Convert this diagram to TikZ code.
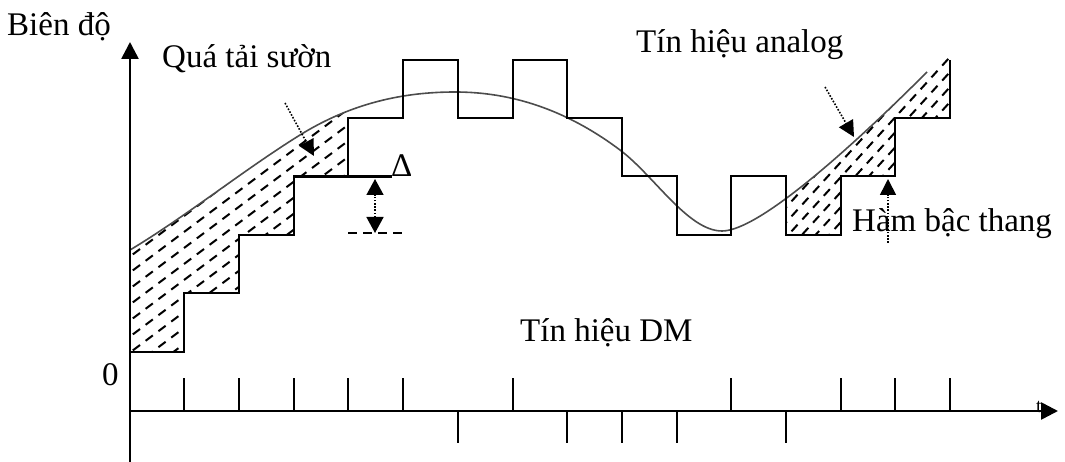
\documentclass[tikz,border=0pt]{standalone}
\usepackage{fontspec}
\setmainfont{Liberation Serif}
\usetikzlibrary{arrows.meta}
\begin{document}
\begin{tikzpicture}[x=1pt,y=-1pt,
  lbl/.style={inner sep=0pt,anchor=base west,font=\fontsize{33}{40}\selectfont},
  axisline/.style={line width=2.6pt,-{Triangle[length=17pt,width=17pt]}},
  stair/.style={line width=1.8pt,line join=miter},
  analog/.style={line width=1.6pt,draw=black!70},
  hatch/.style={line width=2pt,dash pattern=on 9pt off 7pt},
  pointer/.style={line width=1.6pt,dash pattern=on 1.6pt off 1.6pt,-{Triangle[length=16pt,width=16pt]}},
  twoway/.style={line width=1.6pt,dash pattern=on 1.6pt off 1.6pt,{Triangle[length=16pt,width=17pt]}-{Triangle[length=16pt,width=17pt]}},
  tickmark/.style={line width=1.8pt}]
\useasboundingbox (0,0) rectangle (1065,462);

% hatched region 1
\begin{scope}
\clip (130,250) .. controls (186.7,216) and (243.3,170.2) .. (300,135) .. controls (351.7,103) and (403.3,92) .. (455,92) .. controls (510,92) and (565,108.75) .. (620,150) .. controls (654,175.5) and (688,231) .. (722,231) .. controls (760,231) and (857,142) .. (927,72) -- (952,46) -- (960,46) -- (960,420) -- (130,420) -- cycle;
\clip (130,0) -- (348,0) -- (348,176) -- (294,176) -- (294,235) -- (239,235) -- (239,293) -- (184,293) -- (184,352) -- (130,352) -- cycle;
\foreach \k in {0,...,40} \draw[hatch] (120,{200+16*\k}) -- ++(400,-300);
\end{scope}

% hatched region 2
\begin{scope}
\clip (130,250) .. controls (186.7,216) and (243.3,170.2) .. (300,135) .. controls (351.7,103) and (403.3,92) .. (455,92) .. controls (510,92) and (565,108.75) .. (620,150) .. controls (654,175.5) and (688,231) .. (722,231) .. controls (760,231) and (857,142) .. (927,72) -- (952,46) -- (960,46) -- (960,420) -- (130,420) -- cycle;
\clip (786,0) -- (786,235) -- (841,235) -- (841,176) -- (895,176) -- (895,118) -- (950,118) -- (950,0) -- cycle;
\foreach \k in {0,...,30} \draw[hatch] (770,{150+15*\k}) -- ++(300,-330);
\end{scope}

% analog curve
\draw[analog] (130,250) .. controls (186.7,216) and (243.3,170.2) .. (300,135) .. controls (351.7,103) and (403.3,92) .. (455,92) .. controls (510,92) and (565,108.75) .. (620,150) .. controls (654,175.5) and (688,231) .. (722,231) .. controls (760,231) and (857,142) .. (927,72);

% staircase
\draw[stair] (130,352) -- (184,352) -- (184,293) -- (239,293) -- (239,235) -- (294,235) -- (294,176) -- (348,176) -- (348,118) -- (403,118) -- (403,60) -- (458,60) -- (458,118) -- (513,118) -- (513,60) -- (567,60) -- (567,118) -- (622,118) -- (622,176) -- (677,176) -- (677,235) -- (731,235) -- (731,176) -- (786,176) -- (786,235) -- (841,235) -- (841,176) -- (895,176) -- (895,118) -- (950,118) -- (950,60);

% delta
\coordinate (d1) at (294,177);
\coordinate (d2) at (392,177);
\draw[line width=3pt] (d1) -- (d2);
\node[lbl,anchor=base west] (delta) at (391,177) {Δ};
\coordinate (da) at (375,233);
\coordinate (db) at (375,179);
\draw[twoway] (da) -- (db);
\coordinate (dl) at (348,233);
\coordinate (dr) at (405,233);
\draw[line width=1.8pt,dash pattern=on 9pt off 6pt] (dl) -- (dr);

% labels
\node[lbl] (amp) at (7,36) {Biên độ};
\node[lbl] (slope) at (162,68) {Quá tải sườn};
\node[lbl] (an) at (636,53) {Tín hiệu analog};
\node[lbl] (stairl) at (852,232) {Hàm bậc thang};
\node[lbl] (dm) at (520,341) {Tín hiệu DM};
\node[lbl] (zero) at (102,385) {0};
\node[inner sep=0pt,anchor=base west,font=\fontsize{20}{24}\selectfont] (tl) at (1036,412) {t};

% pointers
\coordinate (p1a) at (285,103);
\coordinate (p1b) at (314,156);
\draw[pointer] (p1a) -- (p1b);
\coordinate (p2a) at (825,87);
\coordinate (p2b) at (854,137);
\draw[pointer] (p2a) -- (p2b);
\coordinate (p3a) at (888,243);
\coordinate (p3b) at (888,179);
\draw[pointer] (p3a) -- (p3b);

% axes
\coordinate (o) at (130,411);
\coordinate (ybot) at (130,462);
\coordinate (ytop) at (130,42);
\coordinate (xend) at (1058,411);
\draw[axisline] (ybot) -- (ytop);
\draw[axisline] (o) -- (xend);

% DM ticks
\foreach \x in {184,239,294,348,403,513,731,841,895,950}
  \draw[tickmark] (\x,411) -- (\x,378);
\foreach \x in {458,567,622,677,786}
  \draw[tickmark] (\x,411) -- (\x,443);
\end{tikzpicture}
\end{document}
